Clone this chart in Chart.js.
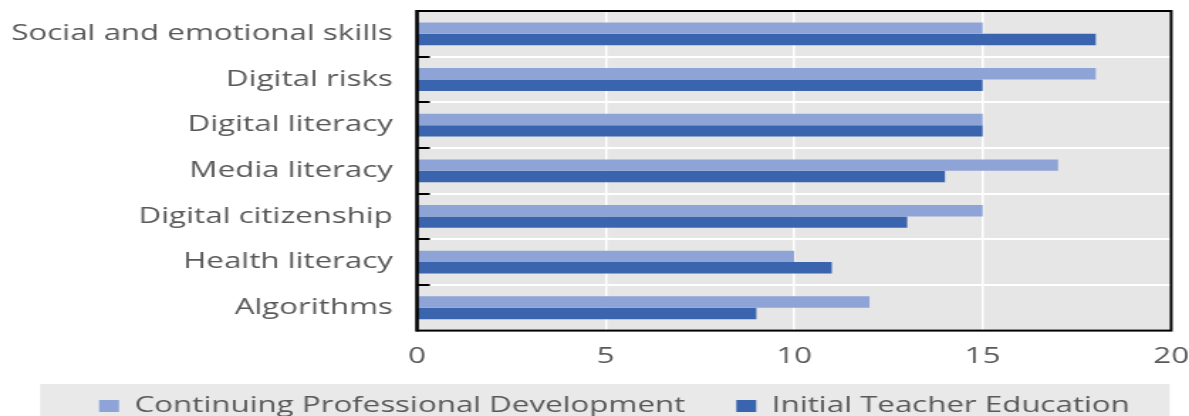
<!DOCTYPE html>
<html>
<head>
<meta charset="utf-8">
<script src="https://cdn.jsdelivr.net/npm/chart.js@4.4.1/dist/chart.umd.min.js"></script>
<style>
  html, body { margin: 0; padding: 0; background: #fff; overflow: hidden; }
  /* the reference is stretched sideways; draw narrower and widen it */
  #wrap { width: 837px; height: 416px; transform: scaleX(1.4206); transform-origin: 0 0; }
</style>
</head>
<body>
<div id="wrap"><canvas id="myChart" width="837" height="416"></canvas></div>
<script>
const categories = [
  'Social and emotional skills',
  'Digital risks',
  'Digital literacy',
  'Media literacy',
  'Digital citizenship',
  'Health literacy',
  'Algorithms'
];
const cpdValues = [15, 18, 15, 17, 15, 10, 12];
const iteValues = [18, 15, 15, 14, 13, 11, 9];
const seriesNames = ['Continuing Professional Development', 'Initial Teacher Education'];
const xTicks = [0, 5, 10, 15, 20];

const FONT = "'Open Sans', sans-serif";
const TEXT = '#595959';

// grey plot area, frame, inward category ticks, grey legend strip
const decor = {
  id: 'decor',
  beforeLayout(chart) {
    // legend keeps wide gaps between items but only a short strip of height
    const lg = chart.legend;
    if (lg && !lg._fitPatched) {
      const fit = lg.fit;
      lg.fit = function () { fit.call(this); this.height = 46; };
      lg._fitPatched = true;
    }
  },
  afterLayout(chart) {
    const lg = chart.legend;
    if (!lg) return;
    lg.top -= 11;
    lg.bottom = chart.height;
    lg.left += 10; lg.right += 10;
  },
  beforeDraw(chart) {
    const { ctx, chartArea: a, legend } = chart;
    ctx.save();
    ctx.fillStyle = '#e6e6e6';
    ctx.fillRect(a.left, a.top, a.right - a.left, a.bottom - a.top);
    if (legend && legend.legendHitBoxes.length) {
      const boxes = legend.legendHitBoxes;
      const last = boxes[boxes.length - 1];
      const x0 = boxes[0].left - 41.5;
      const x1 = last.left + last.width + 28;
      ctx.fillStyle = '#e9e9e9';
      ctx.fillRect(x0, 384, x1 - x0, chart.height - 384);
    }
    ctx.restore();
  },
  afterDraw(chart) {
    const { ctx, chartArea: a } = chart;
    ctx.save();
    ctx.strokeStyle = '#000';
    ctx.lineWidth = 2;
    ctx.strokeRect(a.left, a.top, a.right - a.left, a.bottom - a.top);
    ctx.lineWidth = 2.2;
    ctx.beginPath();
    ctx.moveTo(a.left, a.top - 1);
    ctx.lineTo(a.left, a.bottom + 1);
    ctx.stroke();
    const step = (a.bottom - a.top) / categories.length;
    ctx.lineWidth = 2;
    for (let i = 1; i < categories.length; i++) {
      const yy = Math.round(a.top + i * step);
      ctx.beginPath();
      ctx.moveTo(a.left, yy);
      ctx.lineTo(a.left + 9, yy);
      ctx.stroke();
    }
    ctx.restore();
  }
};

new Chart(document.getElementById('myChart'), {
  type: 'bar',
  data: {
    labels: categories,
    datasets: [
      {
        label: seriesNames[0],
        data: cpdValues,
        backgroundColor: '#8fa4d6',
        categoryPercentage: 0.5,
        barPercentage: 1.0
      },
      {
        label: seriesNames[1],
        data: iteValues,
        backgroundColor: '#3a64ae',
        categoryPercentage: 0.5,
        barPercentage: 1.0
      }
    ]
  },
  options: {
    indexAxis: 'y',
    responsive: false,
    animation: false,
    layout: { padding: { top: 0, right: 0, left: 8, bottom: 0 } },
    scales: {
      x: {
        min: 0,
        max: 20,
        afterBuildTicks: (axis) => { axis.ticks = xTicks.map(v => ({ value: v })); },
        grid: { color: '#ffffff', lineWidth: 1.5, drawTicks: true, tickLength: 13, tickColor: 'rgba(0,0,0,0)' },
        border: { display: false },
        ticks: { color: TEXT, font: { family: FONT, size: 22 }, padding: 0 }
      },
      y: {
        grid: { color: '#ffffff', lineWidth: 2, offset: true, drawTicks: true, tickLength: 17, tickColor: 'rgba(0,0,0,0)' },
        border: { display: false },
        ticks: { color: TEXT, font: { family: FONT, size: 22, lineHeight: 1.0 }, padding: 0 }
      }
    },
    plugins: {
      legend: {
        position: 'bottom',
        labels: {
          color: TEXT,
          font: { family: FONT, size: 22 },
          boxWidth: 14,
          boxHeight: 12,
          padding: 36
        }
      },
      tooltip: { enabled: false }
    }
  },
  plugins: [decor]
});
</script>
</body>
</html>
